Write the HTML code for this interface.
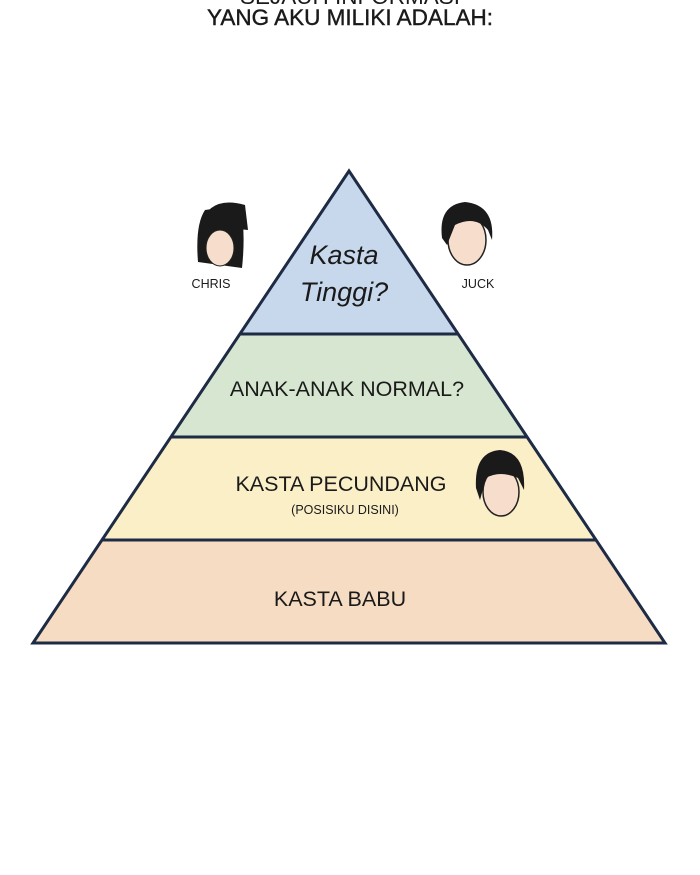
<!DOCTYPE html>
<html><head><meta charset="utf-8"><style>
html,body{margin:0;padding:0;background:#fff;}
svg{display:block;}
text{font-family:"Liberation Sans",sans-serif;fill:#1a1a1a;}
</style></head><body>
<svg width="700" height="875" viewBox="0 0 700 875" xmlns="http://www.w3.org/2000/svg">
<rect width="700" height="875" fill="#fff"/>
<text x="350" y="4" font-size="22.5" text-anchor="middle">SEJAUH INFORMASI</text>
<text x="350" y="25" font-size="22.5" text-anchor="middle" stroke="#1a1a1a" stroke-width="0.4">YANG AKU MILIKI ADALAH:</text>
<polygon points="349,171 240,334 458,334" fill="#c8d8ec"/>
<polygon points="240,334 458,334 527,437 171,437" fill="#d6e6d0"/>
<polygon points="171,437 527,437 596,540 102,540" fill="#fbefc8"/>
<polygon points="102,540 596,540 665,643 33,643" fill="#f6dcc2"/>
<g stroke="#1e2b44" stroke-width="3" fill="none">
<polygon points="349,171 665,643 33,643" stroke-linejoin="miter"/>
<line x1="240" y1="334" x2="458" y2="334"/>
<line x1="171" y1="437" x2="527" y2="437"/>
<line x1="102" y1="540" x2="596" y2="540"/>
</g>
<text x="344" y="264" font-size="27" font-style="italic" text-anchor="middle">Kasta</text>
<text x="344" y="301" font-size="27" font-style="italic" text-anchor="middle">Tinggi?</text>
<text x="347" y="396" font-size="21.5" text-anchor="middle">ANAK-ANAK NORMAL?</text>
<text x="341" y="491" font-size="21.5" text-anchor="middle">KASTA PECUNDANG</text>
<text x="345" y="514" font-size="12.5" text-anchor="middle">(POSISIKU DISINI)</text>
<text x="340" y="606" font-size="21.5" text-anchor="middle">KASTA BABU</text>
<!-- Chris -->
<g>
<path d="M198,262 Q195,225 205,210 L240,205 Q246,230 242,268 Z" fill="#1a1a1a"/>
<ellipse cx="220" cy="248" rx="14" ry="18" fill="#f6ddcc" stroke="#222"/>
<path d="M200,225 Q210,195 245,205 L248,230 Z" fill="#1a1a1a"/>
<path d="M207,228 Q230,220 240,240 L236,230 Z" fill="#1a1a1a"/>
</g>
<text x="211" y="288" font-size="12.5" text-anchor="middle">CHRIS</text>
<!-- Juck -->
<g>
<ellipse cx="467" cy="240" rx="19" ry="25" fill="#f6ddcc" stroke="#222" stroke-width="1.5"/>
<path d="M442,238 Q438,205 465,202 Q495,205 492,240 L488,230 Q475,215 455,225 L447,245 Z" fill="#1a1a1a"/>
</g>
<text x="478" y="288" font-size="12.5" text-anchor="middle">JUCK</text>
<!-- me -->
<g>
<ellipse cx="501" cy="492" rx="18" ry="24" fill="#f6ddcc" stroke="#222" stroke-width="1.5"/>
<path d="M476,488 Q474,452 500,450 Q526,452 524,490 L518,478 Q500,470 486,478 L480,500 Z" fill="#1a1a1a"/>
</g>
</svg>
</body></html>
